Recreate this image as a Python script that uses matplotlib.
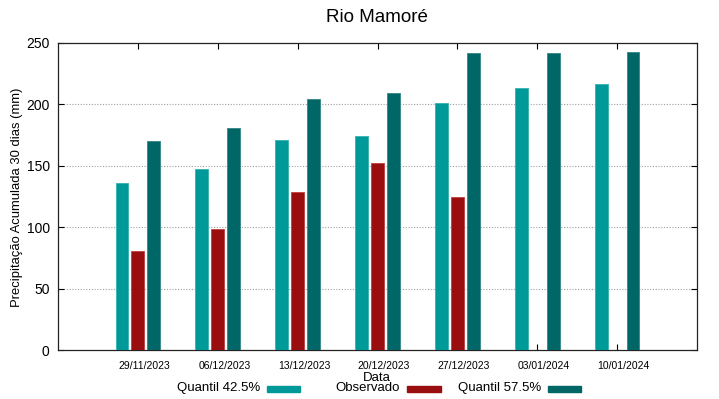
import matplotlib
matplotlib.use("Agg")
import matplotlib.pyplot as plt
import matplotlib.transforms as mtransforms
from matplotlib.patches import Rectangle

plt.rcParams['font.family'] = ['Liberation Sans', 'DejaVu Sans']

datas = ["29/11/2023", "06/12/2023", "13/12/2023", "20/12/2023",
         "27/12/2023", "03/01/2024", "10/01/2024"]
q425 = [136, 147, 171, 174, 201, 213, 217]
observado = [81, 98.5, 128.5, 152, 125, None, None]
q575 = [170, 180.5, 204, 209, 242, 242, 243]

c_q425 = "#009999"
c_obs = "#990e0e"
c_q575 = "#006666"

W, H = 719, 399
fig = plt.figure(figsize=(W / 100, H / 100), dpi=100)
ax = fig.add_axes([58 / W, 1 - 350 / H, (697 - 58) / W, (350 - 43) / H])

x = list(range(1, len(datas) + 1))
bw = 0.16
off = 0.2
ax.bar([xi - off for xi in x], q425, width=bw, color=c_q425, edgecolor="#33b3b3", linewidth=0.6, zorder=3)
ox = [xi for xi, v in zip(x, observado) if v is not None]
ov = [v for v in observado if v is not None]
ax.bar(ox, ov, width=bw, color=c_obs, edgecolor="#c04040", linewidth=0.6, zorder=3)
ax.bar([xi + off for xi in x], q575, width=bw, color=c_q575, edgecolor="#338585", linewidth=0.6, zorder=3)

ax.set_xlim(0, 8)
ax.set_ylim(0, 250)
ax.set_yticks([0, 50, 100, 150, 200, 250])
ax.set_xticks(x)
ax.set_xticklabels(datas, fontsize=7.5)
ax.tick_params(axis='y', labelsize=10, direction='in', right=True, length=4, pad=6)
ax.tick_params(axis='x', direction='in', top=True, length=4, pad=8)
shift = mtransforms.ScaledTranslation(6.5 / 100, 0, fig.dpi_scale_trans)
for lbl in ax.get_xticklabels():
    lbl.set_transform(lbl.get_transform() + shift)
for gy in [50, 100, 150, 200]:
    ax.axhline(gy, color="#a0a0a0", linestyle=(0, (1, 1.5)), linewidth=0.8, zorder=1)
for s in ax.spines.values():
    s.set_color("#222222")
    s.set_linewidth(0.9)

fig.text(377 / W, 1 - 17 / H, "Rio Mamoré", ha="center", va="center", fontsize=13.5)
fig.text(17 / W, 1 - 197 / H, "Precipitação Acumulada 30 dias (mm)", rotation=90,
         ha="center", va="center", fontsize=9.4)
fig.text(377 / W, 1 - 378 / H, "Data", ha="center", va="center", fontsize=9.5)

legend_items = [("Quantil 42.5%", c_q425, 260, 267, 300),
                ("Observado", c_obs, 400, 407, 441),
                ("Quantil 57.5%", c_q575, 541, 548, 581)]
for label, col, tx, s0, s1 in legend_items:
    fig.text(tx / W, 1 - 388 / H, label, ha="right", va="center", fontsize=9.5)
    fig.add_artist(Rectangle((s0 / W, 1 - 392 / H), (s1 - s0) / W, 6 / H,
                             transform=fig.transFigure, color=col))

fig.savefig("out.png", dpi=100)
